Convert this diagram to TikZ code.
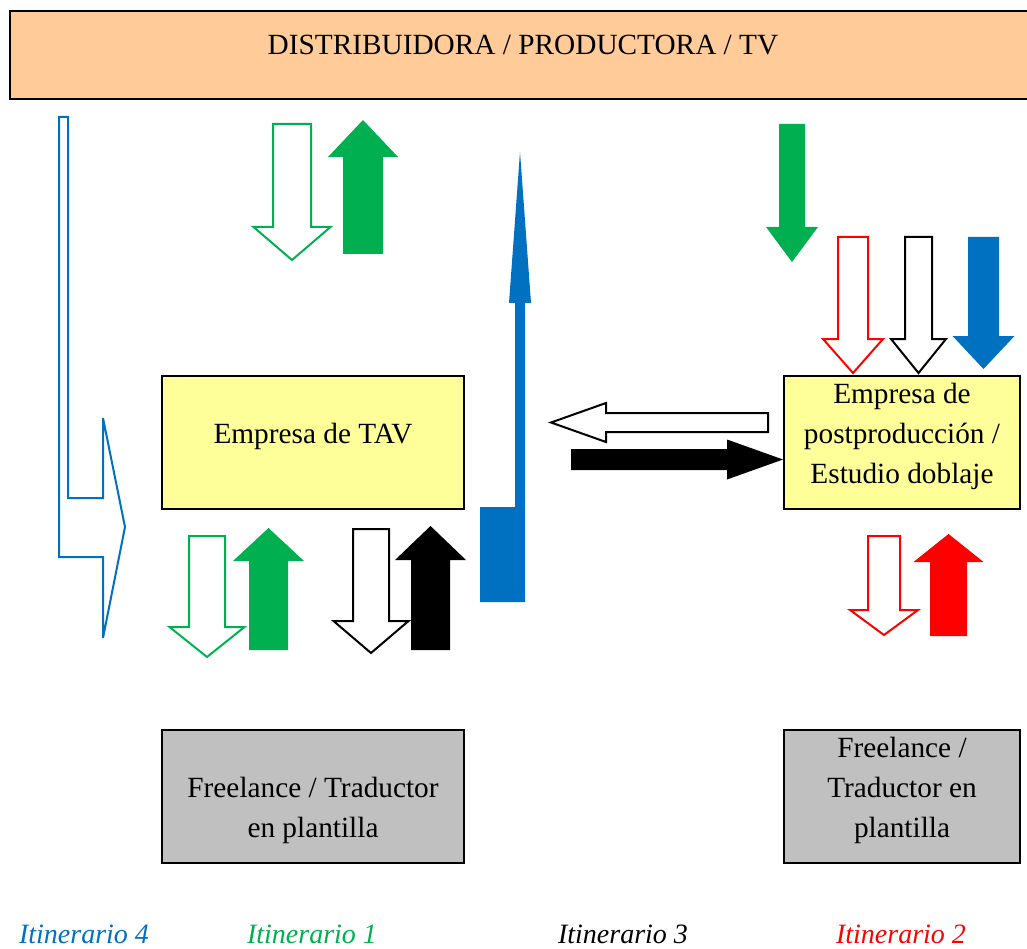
\documentclass[tikz,border=0pt]{standalone}
\usepackage{fontspec}
\setmainfont{Liberation Serif}
\definecolor{peach}{HTML}{FFCC99}
\definecolor{paleyellow}{HTML}{FFFF99}
\definecolor{boxgray}{HTML}{C0C0C0}
\definecolor{itgreen}{HTML}{00B050}
\definecolor{itblue}{HTML}{0070C0}
\definecolor{itred}{HTML}{FF0000}

% vertical block arrow: [style]{x centre}{half shaft}{half head}{y tail}{y head base}{y tip}
\newcommand{\vblockarrow}[7][]{%
  \draw[#1] ({#2-#3},#5) -- ({#2-#3},#6) -- ({#2-#4},#6) -- (#2,#7)
    -- ({#2+#4},#6) -- ({#2+#3},#6) -- ({#2+#3},#5) -- cycle;}
% horizontal block arrow: [style]{y centre}{half shaft}{half head}{x tail}{x head base}{x tip}
\newcommand{\hblockarrow}[7][]{%
  \draw[#1] (#5,{#2-#3}) -- (#6,{#2-#3}) -- (#6,{#2-#4}) -- (#7,#2)
    -- (#6,{#2+#4}) -- (#6,{#2+#3}) -- (#5,{#2+#3}) -- cycle;}

\begin{document}
\begin{tikzpicture}[x=1pt,y=-1pt,
  every node/.style={font=\fontsize{29.3}{40}\selectfont},
  box/.style={draw=black, line width=2.5pt, inner sep=0pt},
  boxtext/.style={inner sep=0pt, align=center},
  hollowarrow/.style={draw=#1, fill=white, line width=2pt, line join=miter},
  filledarrow/.style={fill=#1, draw=none},
  legend/.style={inner sep=0pt, anchor=base, font=\fontsize{28}{40}\selectfont\itshape}]

\clip (0,0) rectangle (1027,949);
\fill[white] (0,0) rectangle (1027,949);

% boxes
\node[box, fill=peach, minimum width=1030pt, minimum height=88pt] (dist) at (525,55) {};
\node[boxtext] (distlabel) at (523,45) {DISTRIBUIDORA / PRODUCTORA / TV};

\node[box, fill=paleyellow, minimum width=302pt, minimum height=133pt] (tav) at (313,442.5) {};
\node[boxtext] (tavlabel) at (313,436) {Empresa de TAV};

\node[box, fill=paleyellow, minimum width=236pt, minimum height=133pt] (post) at (902,442.5) {};
\node[boxtext] (postlabel) at (902,436) {Empresa de\\postproducción /\\Estudio doblaje};

\node[box, fill=boxgray, minimum width=302pt, minimum height=133pt] (freeL) at (313,796.5) {};
\node[boxtext] (freeLlabel) at (313,810) {Freelance / Traductor\\en plantilla};

\node[box, fill=boxgray, minimum width=236pt, minimum height=133pt] (freeR) at (902,796.5) {};
\node[boxtext] (freeRlabel) at (902,790) {Freelance /\\Traductor en\\plantilla};

% itinerary 4: bent outline arrow on the left
\draw[draw=itblue, fill=white, line width=2pt, line join=miter]
  (59,117) -- (68,117) -- (68,498) -- (103,498) -- (103,418) -- (125,527)
  -- (103,638) -- (103,557) -- (59,557) -- cycle;

% itinerary 4: tall filled arrow up to the distributor
\fill[itblue] (480,602) -- (480,507) -- (515,507) -- (515,303) -- (509,303)
  -- (520,152) -- (531,303) -- (525,303) -- (525,602) -- cycle;

% itinerary 1: distributor <-> TAV company
\vblockarrow[hollowarrow=itgreen]{292}{19}{38.5}{124}{227}{260}
\vblockarrow[filledarrow=itgreen]{363}{20}{35}{254}{157}{120}

% itinerary 1 and 3: TAV company <-> translator
\vblockarrow[hollowarrow=itgreen]{207}{18}{37.5}{536}{627}{657}
\vblockarrow[filledarrow=itgreen]{268.5}{19.5}{35.5}{650}{561}{528}
\vblockarrow[hollowarrow=black]{371}{18}{37.5}{529}{621}{653}
\vblockarrow[filledarrow=black]{430.5}{19.5}{35.5}{650}{560}{526}

% itinerary 3: TAV company <-> post-production
\hblockarrow[hollowarrow=black]{422.5}{9.5}{19.5}{768}{606}{551}
\hblockarrow[filledarrow=black]{459.5}{10.5}{20}{571}{727}{783}

% arrows down to the post-production company
\vblockarrow[filledarrow=itgreen]{792}{13}{26}{124}{227}{262}
\vblockarrow[hollowarrow=itred]{853}{15}{30}{237}{339}{373}
\vblockarrow[hollowarrow=black]{918.5}{13.5}{27.5}{237}{339}{373}
\vblockarrow[filledarrow=itblue]{983.5}{15.5}{31}{237}{336}{369}

% itinerary 2: post-production <-> translator
\vblockarrow[hollowarrow=itred]{884}{16}{34}{536}{610}{635}
\vblockarrow[filledarrow=itred]{948.5}{18.5}{35}{636}{562}{534}

% legend
\node[legend, text=itblue] (it4) at (84,943) {Itinerario 4};
\node[legend, text=itgreen] (it1) at (312,943) {Itinerario 1};
\node[legend, text=black] (it3) at (623,943) {Itinerario 3};
\node[legend, text=itred] (it2) at (901,943) {Itinerario 2};
\end{tikzpicture}
\end{document}
